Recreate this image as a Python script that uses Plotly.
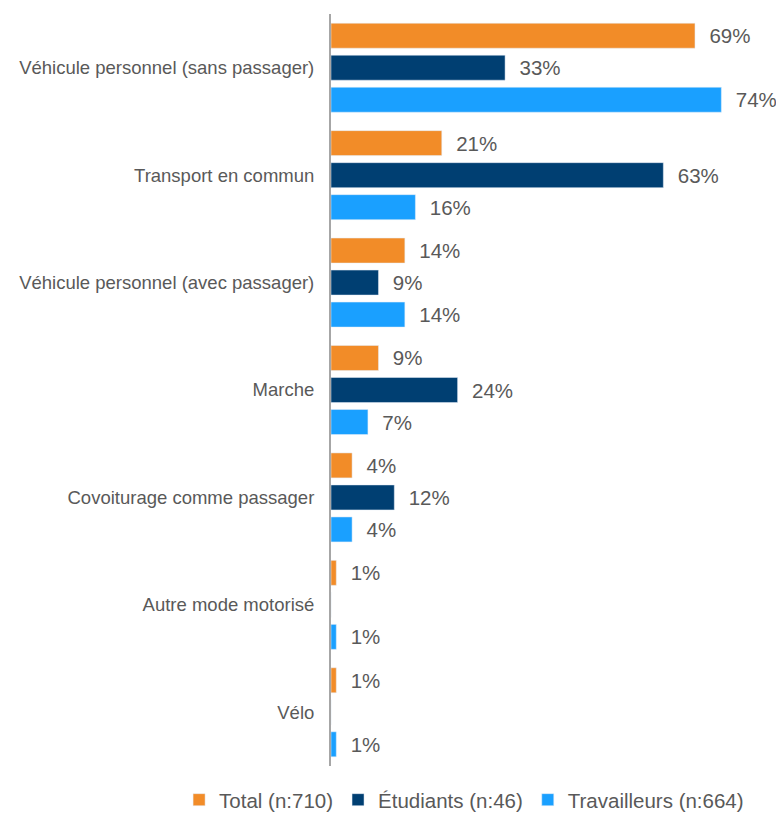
import plotly.graph_objects as go

categories = [
    "Véhicule personnel (sans passager)",
    "Transport en commun",
    "Véhicule personnel (avec passager)",
    "Marche",
    "Covoiturage comme passager",
    "Autre mode motorisé",
    "Vélo",
]
total = [69, 21, 14, 9, 4, 1, 1]
etudiants = [33, 63, 9, 24, 12, 0, 0]
travailleurs = [74, 16, 14, 7, 4, 1, 1]

series = [
    ("Total (n:710)", total, "#F28C28"),
    ("Étudiants (n:46)", etudiants, "#003F72"),
    ("Travailleurs (n:664)", travailleurs, "#1AA0FF"),
]

fig = go.Figure()
for name, vals, color in series:
    fig.add_trace(
        go.Bar(
            y=categories,
            x=vals,
            name=name,
            orientation="h",
            marker_color=color,
            text=[f"&nbsp;&nbsp;{v}%" if v else "" for v in vals],
            textposition="outside",
            textfont=dict(size=20.5, color="#595959"),
            constraintext="none",
            cliponaxis=False,
        )
    )

# page body has an 8px margin, so the figure is 8px smaller than the window
fig.update_layout(
    width=776,
    height=806,
    barmode="group",
    bargap=0.106,
    bargroupgap=0.22,
    plot_bgcolor="white",
    paper_bgcolor="white",
    font=dict(family="Liberation Sans, Arial, sans-serif", color="#595959"),
    margin=dict(l=323, r=31, t=6, b=48, autoexpand=False),
    xaxis=dict(range=[0, 80], visible=False),
    yaxis=dict(
        autorange="reversed",
        automargin=False,
        showline=True,
        linecolor="#A6A6A6",
        linewidth=2,
        ticks="",
        ticklabelstandoff=11,
        tickfont=dict(size=18.5, color="#595959"),
    ),
    legend=dict(
        orientation="h",
        x=-0.36,
        xanchor="left",
        y=-0.045,
        yanchor="middle",
        font=dict(size=20.5, color="#595959"),
        itemwidth=30,
    ),
    showlegend=True,
)

fig.write_html("out.html")
